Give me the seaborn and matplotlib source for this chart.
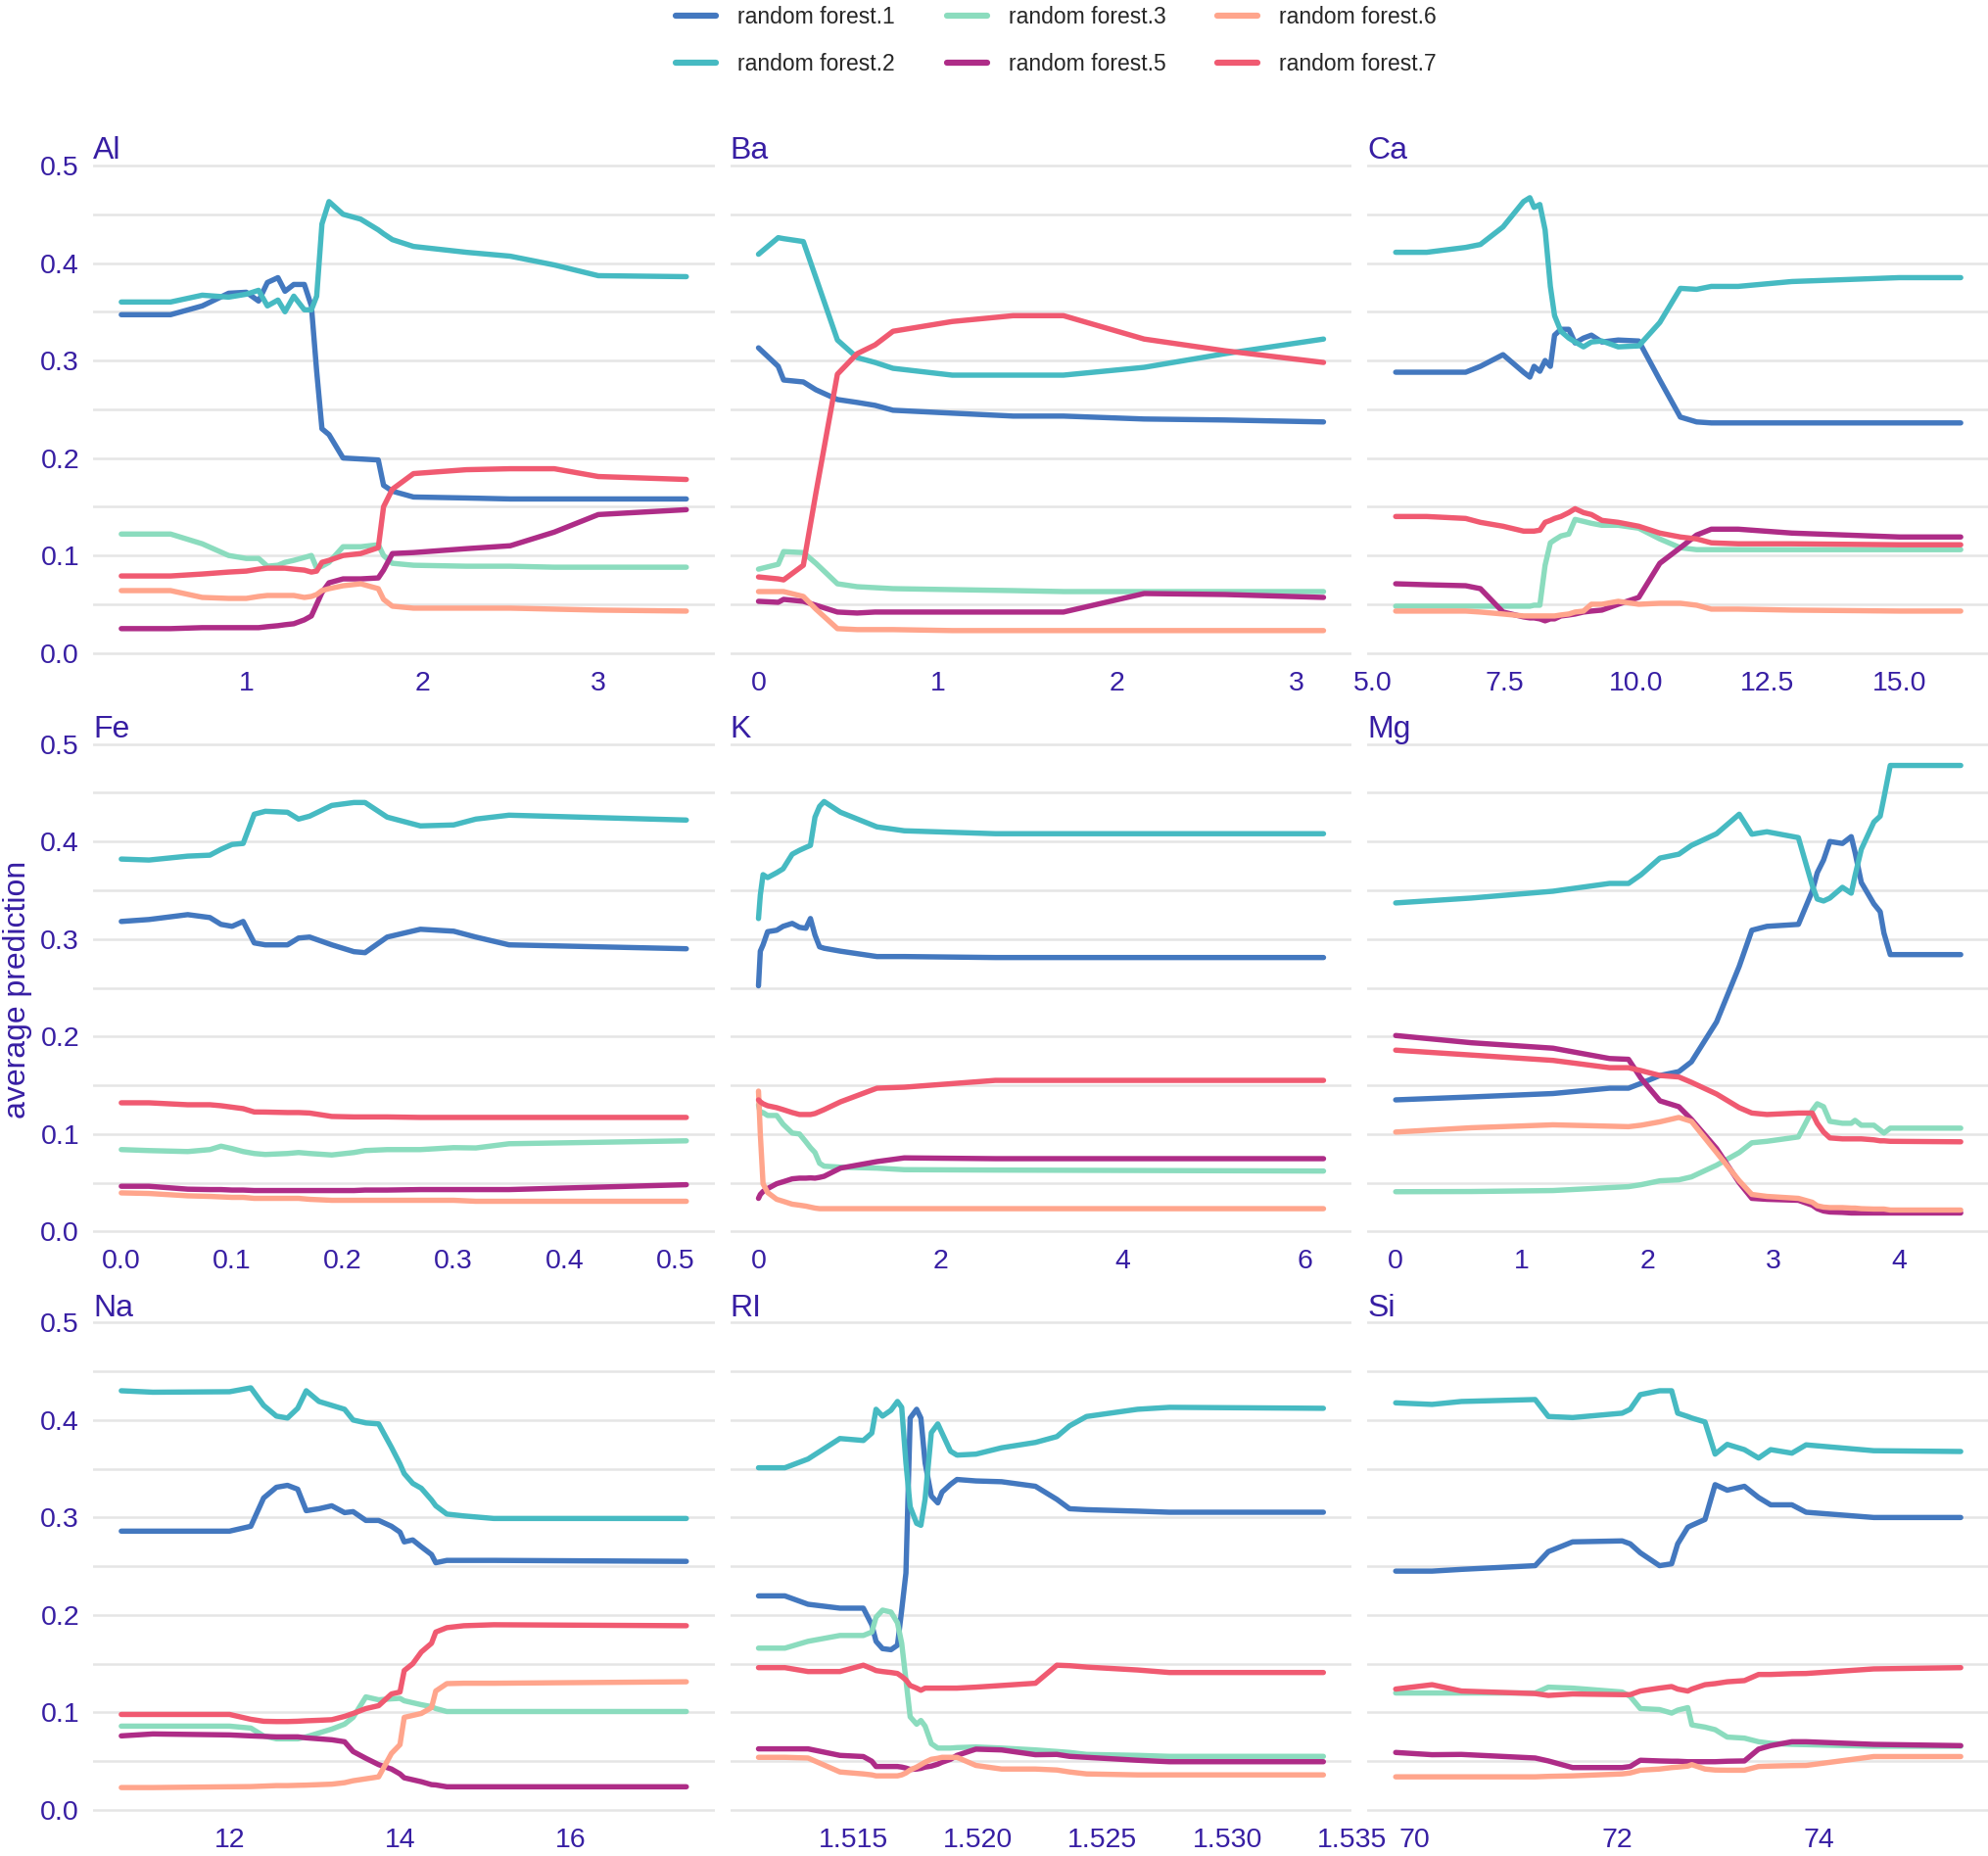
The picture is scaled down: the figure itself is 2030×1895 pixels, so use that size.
import pandas as pd
import matplotlib
matplotlib.use("Agg")
import matplotlib.pyplot as plt
from matplotlib.lines import Line2D
from matplotlib.ticker import MultipleLocator
import seaborn as sns

# series names and colours
labels = ["random forest.1", "random forest.2", "random forest.3",
          "random forest.5", "random forest.6", "random forest.7"]
colors = ["#4378bf", "#46bac2", "#8bdcbe", "#ae2c87", "#ffa58c", "#f05a71"]

# ---- Al
al_x = [0.29, 0.57, 0.75, 0.9, 1.0, 1.07, 1.12, 1.18, 1.22, 1.27, 1.33, 1.37, 1.40,
        1.43, 1.47, 1.55, 1.65, 1.75, 1.78, 1.83, 1.95, 2.25, 2.5, 2.75, 3.0, 3.5]
al_rf1 = [0.347, 0.347, 0.356, 0.369, 0.370, 0.361, 0.380, 0.385, 0.371, 0.378, 0.378, 0.356, 0.289,
          0.230, 0.224, 0.200, 0.199, 0.198, 0.172, 0.166, 0.160, 0.159, 0.158, 0.158, 0.158, 0.158]
al_rf2 = [0.360, 0.360, 0.367, 0.365, 0.368, 0.372, 0.356, 0.362, 0.350, 0.366, 0.352, 0.352, 0.366,
          0.440, 0.463, 0.450, 0.445, 0.434, 0.430, 0.424, 0.417, 0.411, 0.407, 0.398, 0.387, 0.386]
al_rf3 = [0.122, 0.122, 0.112, 0.100, 0.097, 0.097, 0.089, 0.090, 0.093, 0.095, 0.098, 0.100, 0.087,
          0.089, 0.093, 0.109, 0.109, 0.111, 0.100, 0.092, 0.090, 0.089, 0.089, 0.088, 0.088, 0.088]
al_rf5 = [0.025, 0.025, 0.026, 0.026, 0.026, 0.026, 0.027, 0.028, 0.029, 0.030, 0.034, 0.038, 0.050,
          0.062, 0.072, 0.076, 0.076, 0.077, 0.085, 0.102, 0.103, 0.107, 0.110, 0.124, 0.142, 0.147]
al_rf6 = [0.064, 0.064, 0.057, 0.056, 0.056, 0.058, 0.059, 0.059, 0.059, 0.059, 0.057, 0.058, 0.060,
          0.064, 0.066, 0.069, 0.071, 0.066, 0.055, 0.048, 0.046, 0.046, 0.046, 0.045, 0.044, 0.043]
al_rf7 = [0.079, 0.079, 0.081, 0.083, 0.084, 0.086, 0.087, 0.087, 0.087, 0.086, 0.085, 0.083, 0.084,
          0.093, 0.095, 0.100, 0.102, 0.108, 0.150, 0.168, 0.184, 0.188, 0.189, 0.189, 0.181, 0.178]

# ---- Ba
ba_x = [0.0, 0.11, 0.14, 0.25, 0.32, 0.44, 0.55, 0.65, 0.75, 1.08, 1.42, 1.7, 2.15, 2.6, 3.15]
ba_rf1 = [0.313, 0.294, 0.280, 0.278, 0.270, 0.260, 0.257, 0.254, 0.249, 0.246, 0.243, 0.243, 0.240, 0.239, 0.237]
ba_rf2 = [0.409, 0.426, 0.425, 0.422, 0.385, 0.321, 0.303, 0.298, 0.292, 0.285, 0.285, 0.285, 0.293, 0.307, 0.322]
ba_rf3 = [0.086, 0.091, 0.104, 0.103, 0.092, 0.071, 0.068, 0.067, 0.066, 0.065, 0.064, 0.063, 0.063, 0.063, 0.063]
ba_rf5 = [0.053, 0.052, 0.055, 0.053, 0.049, 0.042, 0.041, 0.042, 0.042, 0.042, 0.042, 0.042, 0.061, 0.060, 0.057]
ba_rf6 = [0.063, 0.063, 0.063, 0.058, 0.045, 0.025, 0.024, 0.024, 0.024, 0.023, 0.023, 0.023, 0.023, 0.023, 0.023]
ba_rf7 = [0.078, 0.076, 0.075, 0.090, 0.164, 0.286, 0.307, 0.316, 0.330, 0.340, 0.346, 0.346, 0.322, 0.310, 0.298]

# ---- Ca
ca_x = [5.43, 6.02, 6.76, 7.04, 7.47, 7.86, 7.98, 8.06, 8.17, 8.27, 8.37, 8.45, 8.57, 8.72,
        8.84, 9.00, 9.15, 9.35, 9.66, 10.05, 10.45, 10.84, 11.15, 11.43, 11.94, 12.96, 15.00, 16.17]
ca_rf1 = [0.288, 0.288, 0.288, 0.294, 0.306, 0.288, 0.283, 0.294, 0.289, 0.300, 0.294, 0.326, 0.332, 0.332,
          0.318, 0.323, 0.326, 0.319, 0.321, 0.320, 0.280, 0.242, 0.237, 0.236, 0.236, 0.236, 0.236, 0.236]
ca_rf2 = [0.411, 0.411, 0.416, 0.419, 0.437, 0.463, 0.467, 0.457, 0.460, 0.434, 0.376, 0.346, 0.330, 0.323,
          0.319, 0.314, 0.319, 0.320, 0.314, 0.315, 0.339, 0.374, 0.373, 0.376, 0.376, 0.381, 0.385, 0.385]
ca_rf3 = [0.048, 0.048, 0.048, 0.048, 0.048, 0.048, 0.048, 0.049, 0.049, 0.090, 0.113, 0.116, 0.120, 0.122,
          0.137, 0.135, 0.133, 0.131, 0.131, 0.128, 0.117, 0.108, 0.106, 0.106, 0.106, 0.106, 0.106, 0.106]
ca_rf5 = [0.071, 0.070, 0.069, 0.066, 0.042, 0.037, 0.036, 0.036, 0.035, 0.033, 0.035, 0.035, 0.038, 0.039,
          0.040, 0.042, 0.043, 0.044, 0.050, 0.057, 0.092, 0.108, 0.121, 0.127, 0.127, 0.123, 0.119, 0.119]
ca_rf6 = [0.043, 0.043, 0.043, 0.042, 0.040, 0.038, 0.038, 0.038, 0.038, 0.038, 0.038, 0.038, 0.039, 0.040,
          0.042, 0.043, 0.050, 0.050, 0.053, 0.050, 0.051, 0.051, 0.049, 0.045, 0.045, 0.044, 0.043, 0.043]
ca_rf7 = [0.140, 0.140, 0.138, 0.134, 0.130, 0.125, 0.125, 0.125, 0.126, 0.134, 0.136, 0.138, 0.140, 0.144,
          0.148, 0.144, 0.142, 0.136, 0.134, 0.130, 0.123, 0.119, 0.117, 0.113, 0.112, 0.112, 0.111, 0.111]

# ---- Fe
fe_x = [0.0, 0.025, 0.06, 0.08, 0.09, 0.1, 0.11, 0.12, 0.13, 0.15, 0.16, 0.17, 0.19, 0.21,
        0.22, 0.24, 0.27, 0.3, 0.32, 0.35, 0.51]
fe_rf1 = [0.318, 0.320, 0.325, 0.322, 0.315, 0.313, 0.318, 0.296, 0.294, 0.294, 0.301, 0.302, 0.294, 0.287,
          0.286, 0.302, 0.310, 0.308, 0.302, 0.294, 0.290]
fe_rf2 = [0.382, 0.381, 0.385, 0.386, 0.392, 0.397, 0.398, 0.428, 0.431, 0.430, 0.423, 0.426, 0.437, 0.440,
          0.440, 0.425, 0.416, 0.417, 0.423, 0.427, 0.422]
fe_rf3 = [0.084, 0.083, 0.082, 0.084, 0.0875, 0.085, 0.082, 0.080, 0.079, 0.080, 0.081, 0.080, 0.0785, 0.081,
          0.083, 0.084, 0.084, 0.086, 0.0857, 0.090, 0.093]
fe_rf5 = [0.0464, 0.0464, 0.0434, 0.043, 0.043, 0.0425, 0.0425, 0.042, 0.042, 0.042, 0.042, 0.042, 0.042, 0.042,
          0.0425, 0.0425, 0.043, 0.043, 0.043, 0.043, 0.048]
fe_rf6 = [0.0396, 0.039, 0.0366, 0.036, 0.0355, 0.035, 0.035, 0.034, 0.034, 0.034, 0.034, 0.033, 0.032, 0.032,
          0.032, 0.032, 0.032, 0.032, 0.031, 0.031, 0.031]
fe_rf7 = [0.132, 0.132, 0.130, 0.130, 0.129, 0.1275, 0.126, 0.1226, 0.1225, 0.122, 0.122, 0.1215, 0.118, 0.1175,
          0.1175, 0.1175, 0.117, 0.117, 0.117, 0.117, 0.117]

# ---- K
k_x = [0.0, 0.02, 0.05, 0.1, 0.2, 0.27, 0.37, 0.45, 0.52, 0.57, 0.62, 0.67, 0.72, 0.9, 1.3, 1.6, 2.6, 6.2]
k_rf1 = [0.252, 0.2875, 0.294, 0.3075, 0.309, 0.313, 0.316, 0.312, 0.311, 0.321, 0.304, 0.292, 0.2905,
         0.2875, 0.282, 0.282, 0.281, 0.281]
k_rf2 = [0.321, 0.345, 0.366, 0.363, 0.368, 0.372, 0.387, 0.391, 0.394, 0.396, 0.425, 0.436, 0.441,
         0.430, 0.415, 0.411, 0.408, 0.408]
k_rf3 = [0.130, 0.121, 0.122, 0.119, 0.119, 0.110, 0.101, 0.100, 0.092, 0.086, 0.081, 0.070, 0.067,
         0.066, 0.065, 0.0634, 0.063, 0.062]
k_rf5 = [0.034, 0.038, 0.041, 0.044, 0.049, 0.051, 0.054, 0.0547, 0.0547, 0.055, 0.0547, 0.0555, 0.0566,
         0.065, 0.0717, 0.0755, 0.0747, 0.0747]
k_rf6 = [0.144, 0.100, 0.049, 0.040, 0.033, 0.031, 0.028, 0.027, 0.026, 0.025, 0.024, 0.0234, 0.0234,
         0.0234, 0.0234, 0.0234, 0.0234, 0.0234]
k_rf7 = [0.135, 0.133, 0.131, 0.129, 0.127, 0.125, 0.122, 0.120, 0.120, 0.120, 0.121, 0.123, 0.125,
         0.133, 0.147, 0.148, 0.155, 0.155]

# ---- Mg
mg_x = [0.0, 0.6, 1.25, 1.7, 1.85, 1.95, 2.1, 2.25, 2.35, 2.55, 2.73, 2.83, 2.95, 3.2, 3.31, 3.35,
        3.4, 3.45, 3.55, 3.62, 3.65, 3.7, 3.8, 3.85, 3.88, 3.93, 4.49]
mg_rf1 = [0.135, 0.138, 0.1415, 0.147, 0.147, 0.152, 0.160, 0.164, 0.174, 0.215, 0.272, 0.309, 0.313, 0.315,
          0.349, 0.368, 0.381, 0.400, 0.398, 0.405, 0.389, 0.358, 0.336, 0.328, 0.306, 0.284, 0.284]
mg_rf2 = [0.337, 0.342, 0.349, 0.357, 0.357, 0.366, 0.383, 0.387, 0.396, 0.408, 0.428, 0.4075, 0.410, 0.404,
          0.355, 0.341, 0.339, 0.342, 0.353, 0.347, 0.365, 0.392, 0.420, 0.426, 0.445, 0.478, 0.478]
mg_rf3 = [0.0408, 0.041, 0.042, 0.045, 0.046, 0.048, 0.052, 0.053, 0.056, 0.068, 0.081, 0.091, 0.0925, 0.097,
          0.124, 0.131, 0.128, 0.113, 0.111, 0.111, 0.114, 0.109, 0.109, 0.104, 0.101, 0.106, 0.106]
mg_rf5 = [0.201, 0.1936, 0.188, 0.1774, 0.1766, 0.157, 0.134, 0.128, 0.115, 0.085, 0.050, 0.034, 0.033, 0.032,
          0.027, 0.0234, 0.021, 0.020, 0.0196, 0.019, 0.019, 0.019, 0.019, 0.019, 0.019, 0.019, 0.019]
mg_rf6 = [0.102, 0.1064, 0.1094, 0.108, 0.1075, 0.109, 0.1125, 0.117, 0.113, 0.081, 0.052, 0.038, 0.036, 0.034,
          0.030, 0.0264, 0.025, 0.0245, 0.0245, 0.024, 0.024, 0.0234, 0.023, 0.023, 0.023, 0.022, 0.022]
mg_rf7 = [0.186, 0.181, 0.1755, 0.168, 0.168, 0.165, 0.160, 0.1585, 0.153, 0.141, 0.127, 0.1215, 0.120, 0.1215,
          0.1215, 0.111, 0.102, 0.096, 0.095, 0.095, 0.095, 0.095, 0.094, 0.093, 0.093, 0.0925, 0.092]

# ---- Na
na_x = [10.73, 11.1, 12.0, 12.25, 12.4, 12.55, 12.68, 12.8, 12.9, 13.05, 13.2, 13.35, 13.45, 13.6,
        13.75, 13.9, 14.0, 14.05, 14.15, 14.25, 14.37, 14.42, 14.55, 14.75, 15.1, 17.36]
na_rf1 = [0.286, 0.286, 0.286, 0.291, 0.320, 0.331, 0.333, 0.329, 0.307, 0.309, 0.312, 0.305, 0.306, 0.297,
          0.297, 0.291, 0.285, 0.275, 0.277, 0.270, 0.262, 0.2536, 0.256, 0.256, 0.256, 0.255]
na_rf2 = [0.430, 0.4285, 0.429, 0.433, 0.415, 0.404, 0.402, 0.412, 0.430, 0.419, 0.415, 0.411, 0.400, 0.397,
          0.396, 0.372, 0.355, 0.345, 0.335, 0.330, 0.318, 0.312, 0.3035, 0.3016, 0.299, 0.299]
na_rf3 = [0.086, 0.086, 0.086, 0.084, 0.076, 0.073, 0.073, 0.073, 0.075, 0.079, 0.083, 0.088, 0.095, 0.116,
          0.113, 0.114, 0.1145, 0.112, 0.110, 0.108, 0.106, 0.104, 0.101, 0.101, 0.101, 0.101]
na_rf5 = [0.076, 0.078, 0.077, 0.076, 0.0755, 0.075, 0.075, 0.075, 0.074, 0.073, 0.072, 0.070, 0.060, 0.053,
          0.0465, 0.042, 0.037, 0.033, 0.031, 0.029, 0.026, 0.0257, 0.0238, 0.0238, 0.0238, 0.0238]
na_rf6 = [0.023, 0.023, 0.0238, 0.024, 0.0245, 0.025, 0.025, 0.0253, 0.0255, 0.026, 0.0265, 0.028, 0.030, 0.032,
          0.034, 0.058, 0.067, 0.095, 0.097, 0.099, 0.105, 0.122, 0.1296, 0.130, 0.130, 0.1315]
na_rf7 = [0.098, 0.098, 0.098, 0.093, 0.091, 0.0907, 0.0907, 0.091, 0.0915, 0.092, 0.0926, 0.096, 0.099, 0.104,
          0.107, 0.119, 0.121, 0.143, 0.150, 0.162, 0.171, 0.1825, 0.187, 0.189, 0.190, 0.189]

# ---- RI
ri_x = [1.51118, 1.51224, 1.51317, 1.51445, 1.51539, 1.51573, 1.51590, 1.51616, 1.51650, 1.51676,
        1.51693, 1.51710, 1.51727, 1.51753, 1.51770, 1.51787, 1.51812, 1.51838, 1.51855, 1.51889,
        1.51915, 1.51991, 1.52094, 1.52230, 1.52316, 1.52367, 1.52435, 1.52640, 1.52768, 1.53386]
ri_rf1 = [0.2196, 0.2196, 0.211, 0.207, 0.207, 0.190, 0.173, 0.1655, 0.1644, 0.169,
          0.205, 0.243, 0.402, 0.411, 0.402, 0.356, 0.322, 0.315, 0.326, 0.334,
          0.339, 0.3375, 0.3367, 0.332, 0.3186, 0.309, 0.308, 0.3065, 0.3054, 0.3054]
ri_rf2 = [0.351, 0.351, 0.360, 0.381, 0.379, 0.3866, 0.411, 0.404, 0.410, 0.419,
          0.413, 0.356, 0.311, 0.294, 0.292, 0.319, 0.387, 0.396, 0.3866, 0.368,
          0.364, 0.365, 0.3715, 0.377, 0.383, 0.394, 0.4036, 0.411, 0.413, 0.412]
ri_rf3 = [0.166, 0.166, 0.173, 0.179, 0.179, 0.1825, 0.1977, 0.205, 0.203, 0.192,
          0.171, 0.1334, 0.0956, 0.088, 0.0918, 0.086, 0.068, 0.0635, 0.0635, 0.0635,
          0.064, 0.0646, 0.0635, 0.0616, 0.060, 0.059, 0.057, 0.056, 0.055, 0.055]
ri_rf5 = [0.0627, 0.0627, 0.0627, 0.056, 0.0548, 0.050, 0.0446, 0.0446, 0.0446, 0.0446,
          0.044, 0.043, 0.0416, 0.042, 0.0427, 0.044, 0.045, 0.047, 0.049, 0.052,
          0.056, 0.0624, 0.0616, 0.0567, 0.057, 0.055, 0.054, 0.051, 0.0495, 0.0495]
ri_rf6 = [0.054, 0.054, 0.0533, 0.039, 0.037, 0.036, 0.035, 0.035, 0.035, 0.035,
          0.036, 0.038, 0.041, 0.044, 0.0465, 0.049, 0.052, 0.053, 0.054, 0.054,
          0.054, 0.0457, 0.042, 0.042, 0.041, 0.039, 0.037, 0.036, 0.036, 0.036]
ri_rf7 = [0.146, 0.146, 0.142, 0.142, 0.1485, 0.145, 0.143, 0.142, 0.141, 0.140,
          0.137, 0.1334, 0.1277, 0.125, 0.1228, 0.125, 0.125, 0.125, 0.125, 0.125,
          0.125, 0.126, 0.1277, 0.130, 0.1485, 0.148, 0.1466, 0.1436, 0.141, 0.141]

# ---- Si
si_x = [69.81, 70.17, 70.46, 71.19, 71.32, 71.56, 72.05, 72.13, 72.23, 72.42, 72.54, 72.60,
        72.70, 72.74, 72.87, 72.97, 73.09, 73.26, 73.40, 73.52, 73.73, 73.87, 74.54, 75.40]
si_rf1 = [0.245, 0.245, 0.2468, 0.2506, 0.265, 0.275, 0.276, 0.273, 0.2638, 0.2506, 0.2525, 0.273,
          0.290, 0.292, 0.298, 0.3337, 0.328, 0.332, 0.3205, 0.313, 0.313, 0.3054, 0.300, 0.300]
si_rf2 = [0.4176, 0.416, 0.419, 0.421, 0.4036, 0.4025, 0.407, 0.411, 0.426, 0.430, 0.430, 0.407,
          0.4036, 0.402, 0.398, 0.365, 0.375, 0.3696, 0.361, 0.3696, 0.366, 0.3745, 0.3685, 0.3677]
si_rf3 = [0.120, 0.120, 0.120, 0.120, 0.126, 0.125, 0.121, 0.1164, 0.104, 0.103, 0.0994, 0.1024,
          0.105, 0.0873, 0.085, 0.0824, 0.0748, 0.0737, 0.070, 0.0684, 0.0673, 0.067, 0.0654, 0.0654]
si_rf5 = [0.059, 0.0567, 0.057, 0.0533, 0.0503, 0.0435, 0.0435, 0.0446, 0.051, 0.0503, 0.050, 0.050,
          0.0495, 0.0495, 0.0495, 0.0495, 0.050, 0.0503, 0.0624, 0.066, 0.070, 0.070, 0.0673, 0.066]
si_rf6 = [0.034, 0.034, 0.034, 0.034, 0.0345, 0.035, 0.037, 0.038, 0.0408, 0.042, 0.0435, 0.044,
          0.045, 0.0465, 0.042, 0.041, 0.0408, 0.0408, 0.0446, 0.045, 0.0455, 0.0457, 0.0548, 0.0548]
si_rf7 = [0.124, 0.1285, 0.122, 0.1194, 0.1175, 0.119, 0.1183, 0.1183, 0.122, 0.125, 0.1266, 0.124,
          0.122, 0.124, 0.1285, 0.1296, 0.1315, 0.1327, 0.139, 0.139, 0.1398, 0.140, 0.1447, 0.146]

# x ticks per panel
al_ticks = [1, 2, 3]
ba_ticks = [0, 1, 2, 3]
ca_ticks = [5.0, 7.5, 10.0, 12.5, 15.0]
fe_ticks = [0.0, 0.1, 0.2, 0.3, 0.4, 0.5]
k_ticks = [0, 2, 4, 6]
mg_ticks = [0, 1, 2, 3, 4]
na_ticks = [12, 14, 16]
ri_ticks = [1.515, 1.520, 1.525, 1.530, 1.535]
si_ticks = [70, 72, 74]

panels = [
    ("Al", al_x, [al_rf1, al_rf2, al_rf3, al_rf5, al_rf6, al_rf7], al_ticks, "{:g}"),
    ("Ba", ba_x, [ba_rf1, ba_rf2, ba_rf3, ba_rf5, ba_rf6, ba_rf7], ba_ticks, "{:g}"),
    ("Ca", ca_x, [ca_rf1, ca_rf2, ca_rf3, ca_rf5, ca_rf6, ca_rf7], ca_ticks, "{:.1f}"),
    ("Fe", fe_x, [fe_rf1, fe_rf2, fe_rf3, fe_rf5, fe_rf6, fe_rf7], fe_ticks, "{:.1f}"),
    ("K", k_x, [k_rf1, k_rf2, k_rf3, k_rf5, k_rf6, k_rf7], k_ticks, "{:g}"),
    ("Mg", mg_x, [mg_rf1, mg_rf2, mg_rf3, mg_rf5, mg_rf6, mg_rf7], mg_ticks, "{:g}"),
    ("Na", na_x, [na_rf1, na_rf2, na_rf3, na_rf5, na_rf6, na_rf7], na_ticks, "{:g}"),
    ("RI", ri_x, [ri_rf1, ri_rf2, ri_rf3, ri_rf5, ri_rf6, ri_rf7], ri_ticks, "{:.3f}"),
    ("Si", si_x, [si_rf1, si_rf2, si_rf3, si_rf5, si_rf6, si_rf7], si_ticks, "{:g}"),
]

rows = []
for name, xs, series, _, _ in panels:
    for lab, ys in zip(labels, series):
        for xv, yv in zip(xs, ys):
            rows.append({"variable": name, "x": xv, "prediction": yv, "label": lab})
df = pd.DataFrame(rows)

INDIGO = "#371ea3"
sns.set_style("white")
plt.rcParams["font.family"] = ["Liberation Sans", "DejaVu Sans"]

fig, axes = plt.subplots(3, 3, figsize=(20.31, 18.95), dpi=100)
fig.subplots_adjust(left=95 / 2031, right=1.0, bottom=1 - 1852 / 1895, top=1 - 168 / 1895,
                    wspace=16 / 635, hspace=88 / 503)

for i, (ax, (name, xs, series, ticks, fmt)) in enumerate(zip(axes.flat, panels)):
    sub = df[df["variable"] == name]
    sns.lineplot(data=sub, x="x", y="prediction", hue="label", hue_order=labels,
                 palette=colors, estimator=None, linewidth=3.9, legend=False, ax=ax)
    ax.set_ylim(-0.004, 0.501)
    ax.set_yticks([0.0, 0.1, 0.2, 0.3, 0.4, 0.5])
    ax.yaxis.set_minor_locator(MultipleLocator(0.05))
    ax.grid(False)
    ax.yaxis.grid(True, which="both", color="#e5e5e5", linewidth=1.8)
    ax.set_axisbelow(True)
    ax.set_xticks(ticks)
    ax.set_xticklabels([fmt.format(t) for t in ticks])
    if i % 3 == 0:
        ax.set_yticklabels(["0.0", "0.1", "0.2", "0.3", "0.4", "0.5"])
    else:
        ax.set_yticklabels([])
    ax.tick_params(axis="both", which="both", length=0, labelsize=20.5, labelcolor=INDIGO, pad=10)
    for s in ax.spines.values():
        s.set_visible(False)
    ax.set_xlabel("")
    ax.set_ylabel("")
    ax.set_title(name, loc="left", color=INDIGO, fontsize=23, pad=4)

fig.text(18 / 2031, 1 - 1010 / 1895, "average prediction", rotation=90, ha="center", va="center",
         color=INDIGO, fontsize=23)

handles = [Line2D([0], [0], color=c, linewidth=4.5) for c in colors]
fig.legend(handles, labels, loc="upper center", bbox_to_anchor=(0.531, 0.997), ncol=3,
           frameon=False, fontsize=16.5, handlelength=1.8, handletextpad=0.95,
           columnspacing=2.3, labelspacing=1.1, borderaxespad=0, borderpad=0)

fig.savefig("out.png", dpi=100)
